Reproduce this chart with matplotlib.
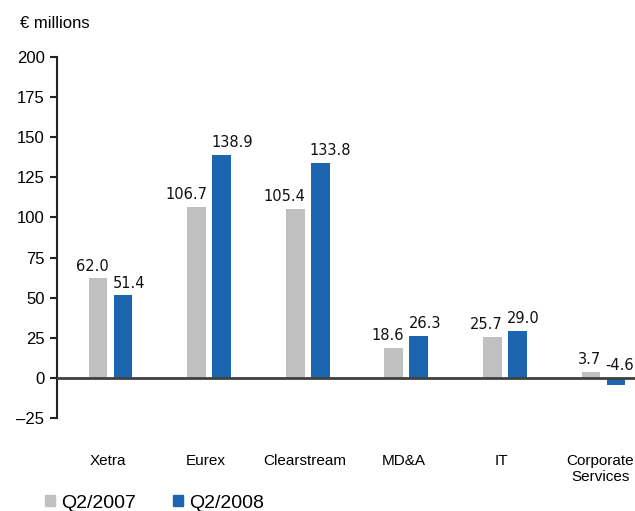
import numpy as np
import matplotlib
matplotlib.use("Agg")
import matplotlib.pyplot as plt
from matplotlib.patches import Patch

categories = ["Xetra", "Eurex", "Clearstream", "MD&A", "IT", "Corporate\nServices"]
q2_2007 = [62.0, 106.7, 105.4, 18.6, 25.7, 3.7]
q2_2008 = [51.4, 138.9, 133.8, 26.3, 29.0, -4.6]
series_names = ["Q2/2007", "Q2/2008"]
yticks = [-25, 0, 25, 50, 75, 100, 125, 150, 175, 200]

GRAY = "#c0c0c0"
BLUE = "#1c66b0"
AXFONT = "Liberation Sans"


def add_labels(ax, xs, vals, ha):
    # gray labels hug the bar's right edge, blue ones the left edge
    for x, v in zip(xs, vals):
        ax.annotate(f"{v:.1f}", xy=(x, max(v, 0)), xytext=(0, 3.5),
                    textcoords="offset points", ha=ha, va="bottom",
                    fontsize=10.5, family="DejaVu Sans", color="#111111")


fig = plt.figure(figsize=(6.35, 5.11), dpi=100)
ax = fig.add_axes([57 / 635, 1 - 418 / 511, 578 / 635, 361 / 511])

x = np.arange(len(categories))
w = 0.19
off = 0.127
ax.bar(x - off, q2_2007, width=w, color=GRAY, zorder=2)
ax.bar(x + off, q2_2008, width=w, color=BLUE, zorder=2)
add_labels(ax, x - off + w / 2 + 0.01, q2_2007, "right")
add_labels(ax, x + off - w / 2 - 0.01, q2_2008, "left")

ax.axhline(0, color="#404040", lw=2, zorder=3)

ax.set_xlim(-0.543, 5.32)
ax.set_ylim(-25, 200)
ax.set_yticks(yticks)
ax.set_yticklabels([str(t).replace("-", "\u2013") for t in yticks],
                   fontsize=12, family=AXFONT)
ax.set_xticks(x - 0.03)
ax.set_xticklabels(categories, fontsize=11, family=AXFONT, linespacing=1.2)
ax.tick_params(axis="x", length=0, pad=26)
ax.tick_params(axis="y", length=5, width=1.5, direction="out", pad=4,
               color="#222222")

for s in ["top", "right", "bottom"]:
    ax.spines[s].set_visible(False)
ax.spines["left"].set_linewidth(1.5)
ax.spines["left"].set_color("#222222")

fig.text(20 / 635, 1 - 24 / 511, "\u20ac millions", fontsize=12,
         family=AXFONT, va="center", ha="left")

handles = [Patch(color=GRAY), Patch(color=BLUE)]
fig.legend(handles, series_names, loc="center left",
           bbox_to_anchor=(45 / 635, 1 - 503 / 511), ncol=2, frameon=False,
           prop={"family": AXFONT, "size": 14}, handlelength=0.52,
           handleheight=0.52, handletextpad=0.31, columnspacing=1.9,
           borderaxespad=0, borderpad=0)

fig.savefig("out.png", dpi=100)
